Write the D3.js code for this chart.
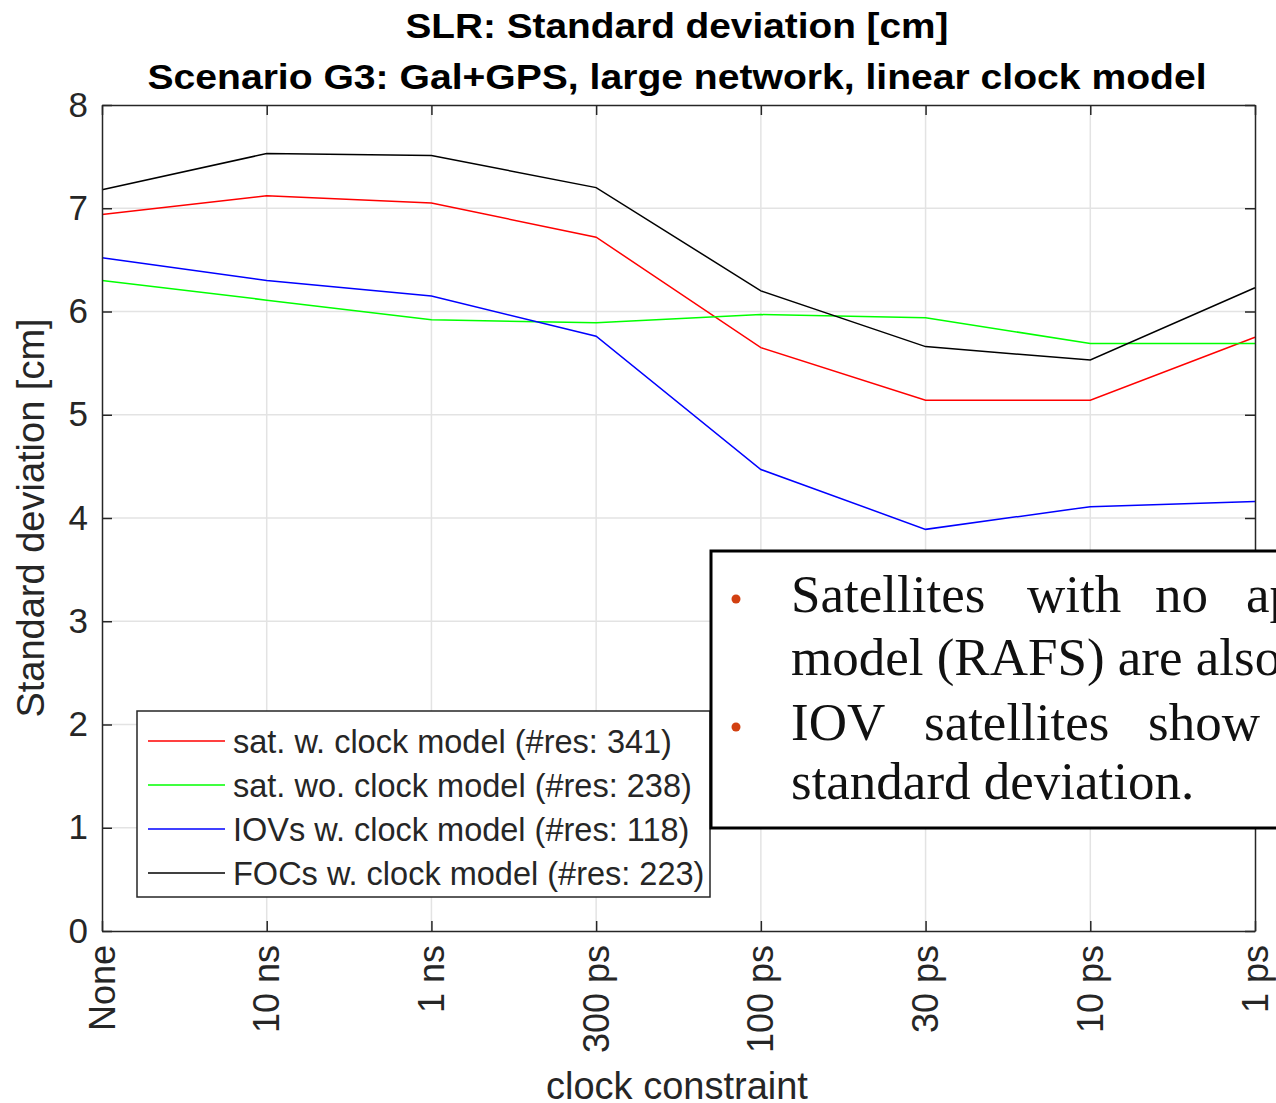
<!DOCTYPE html>
<html>
<head>
<meta charset="utf-8">
<script src="https://cdn.jsdelivr.net/npm/d3@7"></script>
<style>
  body { margin: 0; background: #fff; }
  svg { display: block; }
  text { font-family: "Liberation Sans", Arial, sans-serif; }
</style>
</head>
<body>
<svg id="chart"></svg>
<script>
// chart data
const categories = ['None', '10 ns', '1 ns', '300 ps', '100 ps', '30 ps', '10 ps', '1 ps'];
const satWithClock = [6.94, 7.12, 7.05, 6.72, 5.65, 5.14, 5.14, 5.75];
const satWithoutClock = [6.30, 6.11, 5.92, 5.89, 5.97, 5.94, 5.69, 5.69];
const iovWithClock = [6.52, 6.30, 6.15, 5.76, 4.47, 3.89, 4.11, 4.16];
const focWithClock = [7.18, 7.53, 7.51, 7.20, 6.20, 5.66, 5.53, 6.23];
const yTicks = [0, 1, 2, 3, 4, 5, 6, 7, 8];
const seriesNames = [
  'sat. w. clock model (#res: 341)',
  'sat. wo. clock model (#res: 238)',
  'IOVs w. clock model (#res: 118)',
  'FOCs w. clock model (#res: 223)'
];
const seriesColors = ['#ff0000', '#00ff00', '#0000ff', '#000000'];

const series = [satWithClock, satWithoutClock, iovWithClock, focWithClock];

let svg = d3.select('#chart')
    .attr('width', 1276)
    .attr('height', 1103),
  margin = {top: 105, right: 21, bottom: 172, left: 102},
  width = +svg.attr('width') - margin.left - margin.right,
  height = +svg.attr('height') - margin.top - margin.bottom;

const axisColor = '#262626';

let g = svg.append('g')
  .attr('transform', 'translate(' + margin.left + ',' + margin.top + ')');

let xScale = d3.scalePoint()
  .domain(categories)
  .range([0, width]);

let yScale = d3.scaleLinear()
  .domain([0, 8])
  .range([height, 0]);

// grid
g.append('g')
  .selectAll('line')
  .data(yTicks.slice(1, -1))
  .enter().append('line')
  .attr('x1', 0).attr('x2', width)
  .attr('y1', d => yScale(d)).attr('y2', d => yScale(d))
  .attr('stroke', '#e3e3e3').attr('stroke-width', 1.5);

g.append('g')
  .selectAll('line')
  .data(categories.slice(1, -1))
  .enter().append('line')
  .attr('x1', d => xScale(d)).attr('x2', d => xScale(d))
  .attr('y1', 0).attr('y2', height)
  .attr('stroke', '#e3e3e3').attr('stroke-width', 1.5);

// lines
let line = d3.line()
  .x((d, i) => xScale(categories[i]))
  .y(d => yScale(d));

g.append('g')
  .selectAll('path')
  .data(series)
  .enter().append('path')
  .attr('d', d => line(d))
  .attr('fill', 'none')
  .attr('stroke', (d, i) => seriesColors[i])
  .attr('stroke-width', 1.5);

// axes (box with inward ticks, MATLAB style)
let yAxis = d3.axisLeft(yScale).tickValues(yTicks).tickSizeInner(-10).tickSizeOuter(0).tickPadding(14);
let yAxisRight = d3.axisRight(yScale).tickValues(yTicks).tickSizeInner(-10).tickSizeOuter(0).tickFormat('');
let xAxis = d3.axisBottom(xScale).tickSizeInner(-10).tickSizeOuter(0).tickFormat('');
let xAxisTop = d3.axisTop(xScale).tickSizeInner(-10).tickSizeOuter(0).tickFormat('');

function styleAxis(sel) {
  sel.selectAll('path, line').attr('stroke', axisColor).attr('stroke-width', 1.5);
  sel.selectAll('text')
    .attr('fill', axisColor)
    .style('font-size', '35px');
}

g.append('g').call(yAxis).call(styleAxis);
g.append('g').attr('transform', 'translate(' + width + ',0)').call(yAxisRight).call(styleAxis);
g.append('g').attr('transform', 'translate(0,' + height + ')').call(xAxis).call(styleAxis);
g.append('g').call(xAxisTop).call(styleAxis);

// rotated category labels
g.append('g')
  .selectAll('text')
  .data(categories)
  .enter().append('text')
  .attr('transform', d => 'translate(' + xScale(d) + ',' + (height + 14) + ') rotate(-90)')
  .attr('dy', '0.35em')
  .attr('text-anchor', 'end')
  .attr('fill', axisColor)
  .style('font-size', '36px')
  .text(d => d);

// axis titles
svg.append('text')
  .attr('x', 677).attr('y', 1099)
  .attr('text-anchor', 'middle')
  .attr('fill', axisColor)
  .style('font-size', '38px')
  .text('clock constraint');

svg.append('text')
  .attr('transform', 'translate(44,518) rotate(-90)')
  .attr('text-anchor', 'middle')
  .attr('fill', axisColor)
  .style('font-size', '38px')
  .text('Standard deviation [cm]');

// titles
svg.append('text')
  .attr('x', 677).attr('y', 38)
  .attr('text-anchor', 'middle')
  .attr('textLength', 543).attr('lengthAdjust', 'spacingAndGlyphs')
  .style('font-size', '35px').style('font-weight', 'bold')
  .text('SLR: Standard deviation [cm]');

svg.append('text')
  .attr('x', 677).attr('y', 89)
  .attr('text-anchor', 'middle')
  .attr('textLength', 1059).attr('lengthAdjust', 'spacingAndGlyphs')
  .style('font-size', '35px').style('font-weight', 'bold')
  .text('Scenario G3: Gal+GPS, large network, linear clock model');

// legend
let legend = svg.append('g').attr('transform', 'translate(137,711)');
legend.append('rect')
  .attr('width', 573).attr('height', 186)
  .attr('fill', '#fff')
  .attr('stroke', axisColor).attr('stroke-width', 1.5);

let items = legend.selectAll('.item')
  .data(seriesNames)
  .enter().append('g')
  .attr('class', 'item')
  .attr('transform', (d, i) => 'translate(0,' + (30 + i * 44) + ')');

items.append('line')
  .attr('x1', 11).attr('x2', 88)
  .attr('stroke', (d, i) => seriesColors[i])
  .attr('stroke-width', 1.5);

items.append('text')
  .attr('x', 96).attr('dy', '0.36em')
  .attr('fill', axisColor)
  .style('font-size', '32.5px')
  .text(d => d);

// overlay text box from the slide
let note = svg.append('g').attr('transform', 'translate(711,551)');
note.append('rect')
  .attr('width', 600).attr('height', 277)
  .attr('fill', '#fff')
  .attr('stroke', '#000').attr('stroke-width', 3);

const noteLines = [
  {bullet: true, y: 61, words: [['Satellites', 80], ['with', 316], ['no', 444], ['ap', 535]]},
  {bullet: false, y: 124, words: [['model (RAFS) are also', 80]]},
  {bullet: true, y: 189, words: [['IOV', 80], ['satellites', 213], ['show', 437]]},
  {bullet: false, y: 248, words: [['standard deviation.', 80]]}
];

noteLines.forEach(l => {
  if (l.bullet) {
    note.append('circle')
      .attr('cx', 25).attr('cy', l.y - 13).attr('r', 4.5)
      .attr('fill', '#d24011');
  }
  l.words.forEach(w => {
    note.append('text')
      .attr('x', w[1]).attr('y', l.y)
      .style('font-family', '"Liberation Serif", "Times New Roman", serif')
      .style('font-size', '53px')
      .attr('fill', '#111')
      .text(w[0]);
  });
});
</script>
</body>
</html>
